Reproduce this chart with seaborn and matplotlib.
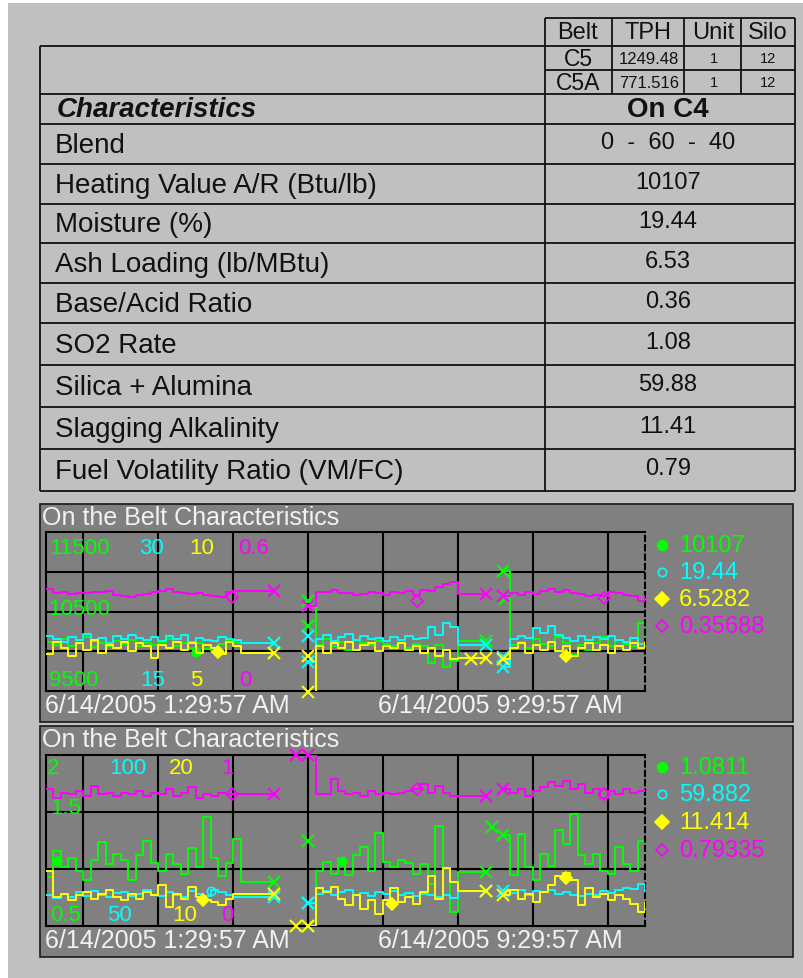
import numpy as np
import pandas as pd
import matplotlib
matplotlib.use("Agg")
import matplotlib.pyplot as plt
import matplotlib.transforms as mtransforms
from matplotlib.patches import Rectangle
import seaborn as sns

sns.set_style("white")
plt.rcParams["font.family"] = ["Liberation Sans", "DejaVu Sans"]

# --- table data ---
belts = ["C5", "C5A"]
belt_tph = ["1249.48", "771.516"]
belt_unit = ["1", "1"]
belt_silo = ["12", "12"]
blend_on = "On C4"
char_labels = ["Blend", "Heating Value A/R (Btu/lb)", "Moisture (%)",
               "Ash Loading (lb/MBtu)", "Base/Acid Ratio", "SO2 Rate",
               "Silica + Alumina", "Slagging Alkalinity",
               "Fuel Volatility Ratio (VM/FC)"]
char_values = ["0  -  60  -  40", "10107", "19.44", "6.53", "0.36", "1.08",
               "59.88", "11.41", "0.79"]

# --- trend data (hours after 6/14/2005 1:29:57 AM), three logged segments ---
seg_sizes = [28, 22, 20]
t_hours = [0.0, 0.2, 0.4, 0.6, 0.8, 1.0, 1.2, 1.4, 1.6, 1.8, 2.0, 2.2, 2.4, 2.6,
           2.8, 3.0, 3.2, 3.4, 3.6, 3.8, 4.0, 4.2, 4.4, 4.6, 4.8, 5.0, 5.2, 6.1,
           7.0, 7.2, 7.4, 7.6, 7.8, 8.0, 8.2, 8.4, 8.6, 8.8, 9.0, 9.2, 9.4, 9.6,
           9.8, 10.0, 10.2, 10.4, 10.6, 10.8, 11.0, 11.75,
           12.2, 12.4, 12.6, 12.8, 13.0, 13.2, 13.4, 13.6, 13.8, 14.0, 14.2,
           14.4, 14.6, 14.8, 15.0, 15.2, 15.4, 15.6, 15.8, 16.0]
start_label = "6/14/2005 1:29:57 AM"
mid_label = "6/14/2005 9:29:57 AM"

# panel 1: heating value, moisture, ash loading, base/acid
p1_heating = [10120, 10080, 10150, 10060, 10100, 10180, 10050, 10110, 10070, 10130,
              10090, 10140, 10060, 10100, 10080, 10120, 10150, 10070, 10100, 10040,
              10110, 10030, 10000, 10090, 10140, 10110, 10100, 10100,
              10630, 10080, 10150, 10060, 10120, 10020, 10140, 10100, 10080, 10130,
              10090, 10060, 10110, 10040, 10090, 10070, 9850, 10080, 9800, 9880,
              10130, 10130,
              11010, 10080, 10120, 10040, 10150, 10090, 10060, 10180, 10100, 9950,
              10080, 10020, 10110, 10180, 10070, 10140, 10090, 10060, 10350, 10107]
p1_moisture = [20.2, 19.9, 19.6, 20.1, 19.8, 20.4, 19.7, 20.0, 19.5, 20.2, 19.9, 20.3,
               20.0, 19.8, 20.1, 19.7, 20.2, 19.9, 20.3, 19.6, 20.0, 19.8, 19.7, 20.1,
               19.9, 19.8, 19.5, 19.5,
               17.7, 19.9, 20.3, 19.7, 20.1, 20.4, 19.8, 20.2, 19.9, 20.0, 19.7, 20.1,
               19.8, 20.2, 19.9, 20.0, 21.0, 20.3, 21.4, 21.0, 19.3, 19.3,
               17.3, 19.9, 20.2, 20.0, 20.9, 20.5, 21.1, 20.3, 20.0, 19.7, 20.2, 19.8,
               20.1, 19.9, 20.2, 19.8, 19.6, 20.0, 19.4, 19.44]
p1_ash = [6.15, 6.55, 6.35, 6.10, 6.50, 6.30, 6.60, 6.20, 6.45, 6.35, 6.55, 6.25,
          6.50, 6.40, 6.05, 6.45, 6.35, 6.55, 6.30, 6.50, 6.20, 6.45, 6.35, 6.15,
          6.55, 6.40, 6.20, 6.20,
          4.98, 6.40, 6.20, 6.50, 6.35, 6.55, 6.30, 6.45, 6.50, 6.25, 6.40, 6.35,
          6.50, 6.30, 6.40, 6.20, 6.35, 6.10, 6.30, 6.00, 6.04, 6.04,
          6.00, 6.35, 6.50, 6.20, 6.45, 6.30, 6.55, 6.25, 6.40, 6.10, 6.35, 6.50,
          6.30, 6.45, 6.20, 6.40, 6.30, 6.50, 6.35, 6.5282]
p1_base_acid = [0.385, 0.368, 0.372, 0.366, 0.370, 0.368, 0.374, 0.372, 0.376, 0.364,
                0.358, 0.356, 0.362, 0.366, 0.372, 0.378, 0.384, 0.372, 0.370, 0.366,
                0.368, 0.364, 0.360, 0.355, 0.372, 0.378, 0.377, 0.377,
                0.321, 0.375, 0.372, 0.380, 0.368, 0.370, 0.364, 0.366, 0.372, 0.368,
                0.364, 0.374, 0.370, 0.378, 0.362, 0.383, 0.376, 0.392, 0.405, 0.410,
                0.366, 0.366,
                0.358, 0.368, 0.362, 0.372, 0.366, 0.378, 0.385, 0.374, 0.380, 0.370,
                0.366, 0.360, 0.364, 0.358, 0.372, 0.368, 0.362, 0.360, 0.340, 0.35688]

# panel 2: SO2 rate, silica + alumina, slagging alkalinity, volatility ratio
p2_so2 = [0.93, 1.16, 1.02, 1.10, 0.98, 0.90, 1.08, 1.24, 1.04, 1.13, 1.08, 0.90,
          1.12, 1.25, 1.05, 0.98, 1.13, 1.04, 0.96, 1.18, 1.02, 1.46, 1.10, 0.94,
          1.05, 1.26, 0.89, 0.89,
          0.50, 0.98, 1.06, 0.96, 1.10, 0.95, 1.12, 1.19, 0.98, 1.32, 1.06, 1.02,
          1.08, 1.05, 0.96, 1.04, 0.87, 1.38, 1.00, 0.62, 0.97, 0.97,
          1.30, 0.95, 1.31, 1.02, 0.90, 1.13, 1.03, 1.34, 1.22, 1.48, 1.12, 1.04,
          1.13, 0.98, 0.96, 1.19, 1.04, 0.98, 1.25, 1.0811]
p2_silica = [59.0, 58.2, 59.5, 58.6, 59.8, 58.9, 60.2, 59.1, 58.4, 59.6, 60.0, 58.8,
             59.3, 60.4, 59.0, 58.7, 59.9, 59.2, 58.5, 60.1, 59.4, 58.9, 60.6, 59.8,
             59.0, 58.6, 58.4, 58.4,
             56.7, 59.5, 60.1, 59.2, 59.8, 60.4, 59.0, 59.6, 58.8, 59.9, 59.3, 60.2,
             59.1, 59.7, 58.9, 59.5, 59.0, 58.6, 59.2, 58.3, 60.3, 60.3,
             60.3, 59.6, 60.5, 59.2, 60.1, 59.8, 60.6, 59.4, 60.0, 59.1, 58.7, 59.5,
             59.0, 60.2, 59.6, 60.4, 61.0, 60.8, 62.4, 59.882]
p2_slagging = [13.2, 11.7, 11.9, 11.5, 11.8, 12.0, 11.6, 11.9, 12.1, 11.7, 11.5, 11.9,
               11.6, 12.0, 11.8, 12.4, 11.1, 11.9, 11.6, 12.3, 11.7, 11.5, 11.4, 11.2,
               11.6, 11.9, 11.9, 11.9,
               10.0, 12.2, 12.0, 12.3, 11.6, 11.2, 11.8, 11.0, 11.5, 10.7, 11.5, 12.2,
               11.4, 11.7, 11.3, 12.0, 12.9, 11.6, 13.4, 12.6, 12.05, 12.05,
               11.8, 12.1, 11.6, 11.9, 11.4, 12.0, 12.4, 12.9, 13.1, 12.7, 11.2, 12.2,
               11.7, 11.9, 11.5, 11.8, 11.6, 11.3, 10.8, 11.414]
p2_volatility = [0.80, 0.75, 0.78, 0.77, 0.79, 0.76, 0.82, 0.77, 0.78, 0.76, 0.78, 0.77,
                 0.79, 0.76, 0.78, 0.77, 0.80, 0.76, 0.78, 0.81, 0.75, 0.77, 0.76, 0.78,
                 0.77, 0.77, 0.772, 0.772,
                 1.00, 0.77, 0.77, 0.86, 0.79, 0.77, 0.78, 0.76, 0.79, 0.77, 0.78, 0.77,
                 0.78, 0.79, 0.80, 0.83, 0.78, 0.82, 0.78, 0.76, 0.762, 0.762,
                 0.80, 0.78, 0.80, 0.76, 0.79, 0.81, 0.84, 0.82, 0.85, 0.80, 0.83, 0.78,
                 0.80, 0.75, 0.79, 0.77, 0.80, 0.78, 0.79, 0.79335]

# pen scales (bottom, top) and the extra middle label of the first pen
p1_scales = [(9500, 11500), (15, 30), (5, 10), (0, 0.6)]
p2_scales = [(0.5, 2), (50, 100), (10, 20), (0, 1)]
p1_mid = 10500
p2_mid = 1.5

# isolated samples between the segments (hours, value) per pen
p1_gap_marks = [[(7.0, 10318), (12.25, 10657)], [(7.0, 20.2), (12.2, 18.2)],
                [(7.0, 6.1), (11.35, 6.0)], []]
p2_gap_marks = [[(7.0, 1.245), (11.9, 1.37)], [(7.0, 56.7)],
                [(6.67, 10.0)], [(6.67, 1.0)]]
# pen symbols that sit on the traces
p1_symbols = [[(4.0, 9987)], [], [(4.6, 6.22), (13.9, 6.1)], [(4.97, 0.355), (9.9, 0.34), (14.9, 0.35)]]
p2_symbols = [[(0.3, 1.07), (7.9, 1.07)], [(4.4, 60.3)], [(4.2, 11.5), (9.25, 11.3), (13.9, 12.8)],
              [(4.97, 0.77), (9.9, 0.80), (14.9, 0.77)]]

pen_colors = ["#00ff00", "#00ffff", "#ffff00", "#ff00ff"]
pen_markers = [("o", True), ("o", False), ("D", True), ("D", False)]

W, H = 804, 979
fig = plt.figure(figsize=(W / 100, H / 100), dpi=100, facecolor="white")
bg = fig.add_axes([0, 0, 1, 1])
bg.set_xlim(0, W)
bg.set_ylim(H, 0)
bg.set_axis_off()
bg.add_patch(Rectangle((8, 4), W - 8, H - 4, facecolor="#c0c0c0", edgecolor="none"))


def frac(x0, y0, x1, y1):
    return [x0 / W, 1 - y1 / H, (x1 - x0) / W, (y1 - y0) / H]


# --- table ---
lc = "#111111"
lw = 1.3
bg.hlines([19], 545, 795, color=lc, lw=lw)
bg.hlines([47, 71], 545, 795, color=lc, lw=lw)
bg.hlines([47], 40, 545, color=lc, lw=lw)
row_lines = [95, 125, 165, 205, 244, 284, 324, 366, 408, 450, 492]
bg.hlines(row_lines, 40, 795, color=lc, lw=lw)
bg.vlines([40], 47, 492, color=lc, lw=lw)
bg.vlines([545, 795], 19, 492, color=lc, lw=lw)
bg.vlines([612, 684, 741], 19, 95, color=lc, lw=lw)

for x, s in zip([578, 648, 713, 768], ["Belt", "TPH", "Unit", "Silo"]):
    bg.text(x, 33, s, ha="center", va="center", fontsize=17, color=lc)
for i, b in enumerate(belts):
    y = 59 + 24 * i
    bg.text(578, y, b, ha="center", va="center", fontsize=16.5, color=lc)
    bg.text(619, y, belt_tph[i], ha="left", va="center", fontsize=12, color=lc)
    bg.text(714, y, belt_unit[i], ha="center", va="center", fontsize=10.5, color=lc)
    bg.text(768, y, belt_silo[i], ha="center", va="center", fontsize=10.5, color=lc)

bg.text(57, 110, "Characteristics", ha="left", va="center", fontsize=20,
        fontweight="bold", fontstyle="italic", color=lc)
bg.text(668, 110, blend_on, ha="center", va="center", fontsize=20,
        fontweight="bold", color=lc)
for i, (lab, val) in enumerate(zip(char_labels, char_values)):
    yc = (row_lines[i + 1] + row_lines[i + 2]) / 2
    bg.text(55, yc + 1, lab, ha="left", va="center", fontsize=20, color=lc)
    bg.text(668, yc - 2, val, ha="center", va="center", fontsize=17, color=lc)


# --- trend panels ---
seg_id = np.repeat(np.arange(len(seg_sizes)), seg_sizes)
seg_edges = np.cumsum(seg_sizes)
edge_idx = [seg_edges[0] - 1, seg_edges[0], seg_edges[1] - 1, seg_edges[1]]
grid_hours = [1, 3, 5, 7, 9, 11, 13, 15]
txt = "#f2f2f2"


def draw_panel(top, bottom, plot_box, pens, scales, mid, gap_marks, symbols,
               n_rows, label_x, label_fy, mid_fy, legend_y):
    bg.add_patch(Rectangle((40, top), 753, bottom - top, facecolor="#808080",
                           edgecolor="#1a1a1a", lw=1.2))
    bg.text(42, top + 13, "On the Belt Characteristics", ha="left", va="center",
            fontsize=18, color=txt)
    bg.text(45, bottom - 17, start_label, ha="left", va="center", fontsize=18, color=txt)
    bg.text(378, bottom - 17, mid_label, ha="left", va="center", fontsize=18, color=txt)

    base = fig.add_axes(frac(*plot_box))
    base.set_facecolor("none")
    axes = [base] + [base.twinx() for _ in pens[1:]]
    for k, (ax, vals, (lo, hi), c) in enumerate(zip(axes, pens, scales, pen_colors)):
        df = pd.DataFrame({"t": t_hours, "v": vals, "seg": seg_id})
        sns.lineplot(data=df, x="t", y="v", units="seg", estimator=None, sort=False,
                     drawstyle="steps-post", color=c, lw=1.4, ax=ax, legend=False)
        tv = np.array(t_hours)[edge_idx]
        vv = np.array(vals)[edge_idx]
        ax.plot(tv, vv, ls="none", marker="x", ms=9, mew=1.5, color=c, clip_on=False)
        if gap_marks[k]:
            gt, gv = zip(*gap_marks[k])
            ax.plot(gt, gv, ls="none", marker="x", ms=9, mew=1.5, color=c, clip_on=False)
        if symbols[k]:
            st, sv = zip(*symbols[k])
            m, filled = pen_markers[k]
            ax.plot(st, sv, ls="none", marker=m, ms=6, mew=1.2, color=c,
                    mfc=c if filled else "none")
        ax.set_xlim(0, 16)
        ax.set_ylim(lo, hi)
        ax.set_xlabel("")
        ax.set_ylabel("")
        if k > 0:
            ax.set_axis_off()
        # scale labels
        tr = mtransforms.blended_transform_factory(ax.transData, ax.transAxes)
        ax.text(label_x[0][k], label_fy[0], f"{hi:g}", transform=tr, ha="left",
                va="center", fontsize=16, color=c)
        ax.text(label_x[1][k], label_fy[1], f"{lo:g}", transform=tr, ha="left",
                va="center", fontsize=16, color=c)
        if k == 0:
            ax.text(label_x[1][0], mid_fy, f"{mid:g}", transform=tr, ha="left",
                    va="center", fontsize=16, color=c)

    lo, hi = scales[0]
    step = (hi - lo) / n_rows
    base.set_xticks(grid_hours)
    base.set_yticks([lo + step * i for i in range(1, n_rows)])
    base.grid(True, color="black", lw=1.5)
    base.tick_params(length=0, labelbottom=False, labelleft=False, labelright=False)
    for name, sp in base.spines.items():
        sp.set_color("black")
        sp.set_linewidth(1.5)
    base.spines["right"].set_linestyle((0, (2.5, 2)))

    # value legend
    for k, (vals, c) in enumerate(zip(pens, pen_colors)):
        y = legend_y[k]
        m, filled = pen_markers[k]
        bg.plot(662, y, marker=m, ms=7 if filled else 6, mew=1.2, color=c,
                mfc=c if filled else "none")
        bg.text(679, y, f"{vals[-1]:g}", ha="left", va="center", fontsize=17, color=c)


draw_panel(505, 723, (46, 533, 645, 692),
           [p1_heating, p1_moisture, p1_ash, p1_base_acid], p1_scales, p1_mid,
           p1_gap_marks, p1_symbols, 4,
           [[0.1, 2.5, 3.82, 5.14], [0.07, 2.53, 3.86, 5.15]], (0.905, 0.075), 0.52,
           [546, 573, 600, 627])
draw_panel(727, 958, (46, 756, 645, 927),
           [p2_so2, p2_silica, p2_slagging, p2_volatility], p2_scales, p2_mid,
           p2_gap_marks, p2_symbols, 3,
           [[0.03, 1.68, 3.29, 4.67], [0.12, 1.63, 3.37, 4.67]], (0.925, 0.07), 0.695,
           [768, 795, 823, 851])

fig.savefig("out.png", dpi=100, facecolor="white")
